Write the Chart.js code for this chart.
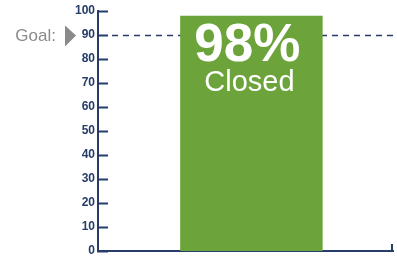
<!DOCTYPE html>
<html>
<head>
<meta charset="utf-8">
<script src="https://cdn.jsdelivr.net/npm/chart.js@4/dist/chart.umd.min.js"></script>
<style>
  html, body { margin: 0; padding: 0; background: #fff; }
  #wrap { width: 397px; height: 260px; position: relative; }
</style>
</head>
<body>
<div id="wrap"><canvas id="goalChart"></canvas></div>
<script>
const categories = ['Closed'];
const closedPct = [98];
const goalValue = [90];
const goalLabel = ['Goal:'];
const yMin = 0, yMax = 100, yStep = 5;

const navy = '#253d68';
const green = '#6ca43b';
const grey = '#8a8a8a';

// goal line sits behind the bar
const goalLinePlugin = {
    id: 'goalLine',
    beforeDatasetsDraw(chart) {
        const ctx = chart.ctx;
        const y = chart.scales.y;
        const area = chart.chartArea;
        const gy = Math.round(y.getPixelForValue(goalValue[0])) + 0.5;
        ctx.save();
        ctx.strokeStyle = navy;
        ctx.lineWidth = 1.5;
        ctx.setLineDash([6, 5]);
        ctx.beginPath();
        ctx.moveTo(area.left + 14, gy);
        ctx.lineTo(area.right, gy);
        ctx.stroke();
        ctx.restore();
    }
};

// ticks drawn inside the y axis, goal marker, bar text
const overlayPlugin = {
    id: 'overlay',
    afterDraw(chart) {
        const ctx = chart.ctx;
        const y = chart.scales.y;
        const area = chart.chartArea;
        ctx.save();

        ctx.strokeStyle = navy;
        y.ticks.forEach(t => {
            const py = Math.round(y.getPixelForValue(t.value)) + 0.5;
            const major = t.value % 10 === 0;
            ctx.lineWidth = major ? 2 : 1.5;
            ctx.beginPath();
            ctx.moveTo(area.left - 1, py);
            ctx.lineTo(area.left + (major ? 10 : 5), py);
            ctx.stroke();
        });

        // end tick of x axis
        ctx.lineWidth = 2;
        ctx.beginPath();
        ctx.moveTo(area.right - 1, area.bottom);
        ctx.lineTo(area.right - 1, area.bottom - 7);
        ctx.stroke();

        const bar = chart.getDatasetMeta(0).data[0];
        ctx.fillStyle = '#ffffff';
        ctx.textAlign = 'center';
        ctx.textBaseline = 'alphabetic';
        ctx.font = 'bold 53px "Liberation Sans", Arial, sans-serif';
        ctx.fillText(closedPct[0] + '%', bar.x - 4, 61);
        ctx.font = '29px "Liberation Sans", Arial, sans-serif';
        ctx.fillText(categories[0], bar.x - 2, 91);

        const gy = Math.round(y.getPixelForValue(goalValue[0])) + 0.5;
        ctx.fillStyle = grey;
        ctx.beginPath();
        ctx.moveTo(65, gy - 10);
        ctx.lineTo(76, gy);
        ctx.lineTo(65, gy + 11);
        ctx.closePath();
        ctx.fill();
        ctx.font = '17px "Liberation Sans", Arial, sans-serif';
        ctx.textAlign = 'right';
        ctx.textBaseline = 'middle';
        ctx.fillText(goalLabel[0], 56, gy + 1);

        ctx.restore();
    }
};

new Chart(document.getElementById('goalChart'), {
    type: 'bar',
    data: {
        labels: categories,
        datasets: [{
            data: closedPct,
            backgroundColor: green,
            borderWidth: 0,
            barPercentage: 0.483,
            categoryPercentage: 1
        }]
    },
    options: {
        responsive: true,
        maintainAspectRatio: false,
        animation: false,
        events: [],
        layout: { padding: { left: 0, right: 4, top: 11, bottom: 1 } },
        plugins: { legend: { display: false }, tooltip: { enabled: false } },
        scales: {
            x: {
                // the bar sits a little right of the centre of the plot
                afterDataLimits(scale) { scale.min = -0.02; },
                grid: { display: false, drawTicks: false },
                border: { color: navy, width: 2 },
                ticks: { display: false }
            },
            y: {
                min: yMin,
                max: yMax,
                afterFit(scale) { scale.width = 98; },
                grid: { display: false, drawTicks: false },
                border: { color: navy, width: 2 },
                ticks: {
                    stepSize: yStep,
                    padding: 3,
                    color: navy,
                    font: { family: '"Liberation Sans", Arial, sans-serif', size: 12, weight: 'bold', lineHeight: 1 },
                    callback: v => (v % 10 === 0 ? v : '')
                }
            }
        }
    },
    plugins: [goalLinePlugin, overlayPlugin]
});
</script>
</body>
</html>
